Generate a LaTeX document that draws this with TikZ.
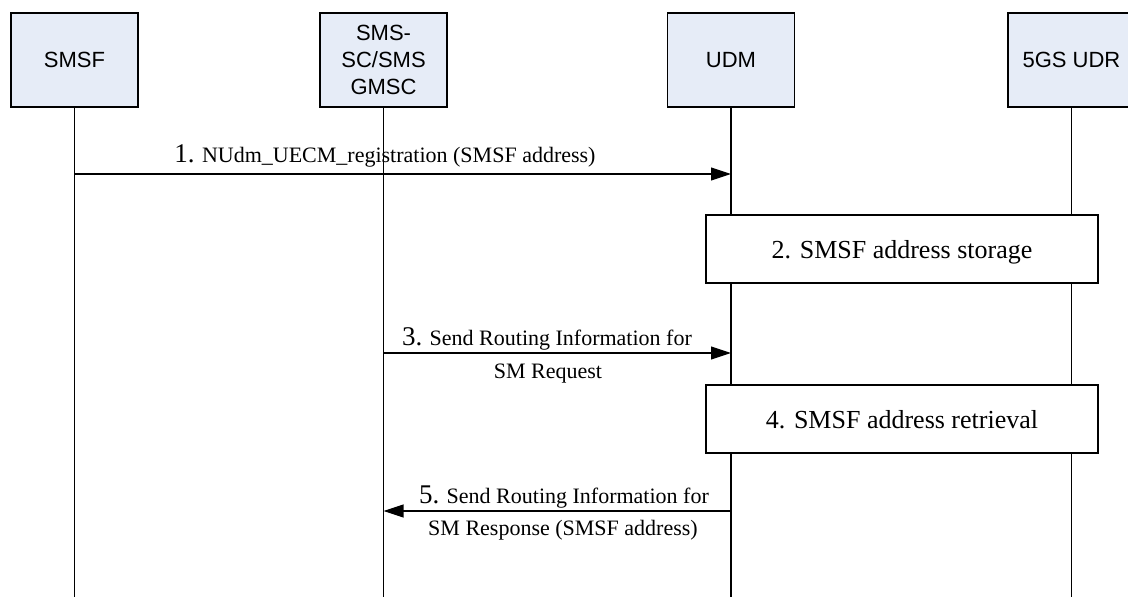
\documentclass[tikz,border=0pt]{standalone}
\usepackage{fontspec}
\setmainfont{Liberation Serif}
\newfontfamily\hdrfont{Liberation Sans}
\usetikzlibrary{arrows.meta,positioning}

\definecolor{hdrfill}{RGB}{230,236,247}
\newcommand{\stepno}[1]{{\fontsize{27}{27}\selectfont #1}}

\begin{document}
\begin{tikzpicture}[
  x=1pt, y=-1pt,
  entity/.style={rectangle, draw, fill=hdrfill, line width=1.1pt, minimum width=127pt, minimum height=94pt,
    align=center, font=\hdrfont\fontsize{22}{27}\selectfont, inner sep=0pt},
  action/.style={rectangle, draw, fill=white, line width=1.1pt, minimum width=392pt, minimum height=68pt,
    font=\fontsize{26}{30}\selectfont, inner sep=0pt, text depth=0pt},
  lifeline/.style={line width=1.1pt},
  msg/.style={line width=1.1pt, -{Triangle[length=20pt,width=13pt]}},
  lbl/.style={font=\fontsize{22}{26}\selectfont, inner sep=0pt, anchor=base}
]
\useasboundingbox (0,0) rectangle (1128,597);

% Entities
\node[entity] (smsf) at (74.5,60) {SMSF};
\node[entity] (smsc) at (383.5,60) {SMS-\\SC/SMS\\GMSC};
\node[entity] (udm) at (731,60) {UDM};
\node[entity] (udr) at (1071.5,60) {5GS UDR};

% Lifeline ends
\coordinate (smsfend) at (74.5,597);
\coordinate (smscend) at (383.5,597);
\coordinate (udmend) at (731,597);
\coordinate (udrend) at (1071.5,597);

% Local actions
\node[action] (store) at (902,249) {2. SMSF address storage};
\node[action] (fetch) at (902,419) {4. SMSF address retrieval};

% Lifelines
\draw[lifeline] (smsf) -- (smsfend);
\draw[lifeline] (smsc) -- (smscend);
\draw[lifeline] (udm) -- (udm |- store.north);
\draw[lifeline] (udm |- store.south) -- (udm |- fetch.north);
\draw[lifeline] (udm |- fetch.south) -- (udmend);
\draw[lifeline] (udr) -- (udr |- store.north);
\draw[lifeline] (udr |- store.south) -- (udr |- fetch.north);
\draw[lifeline] (udr |- fetch.south) -- (udrend);

% Message points
\coordinate (m1) at (0,174);
\coordinate (m3) at (0,353);
\coordinate (m5) at (0,511);

% Messages
\draw[msg] (smsf |- m1) -- (udm |- m1);
\node[lbl] (l1) at (385,162) {\stepno{1.} NUdm\_UECM\_registration (SMSF address)};

\draw[msg] (smsc |- m3) -- (udm |- m3);
\node[lbl] (l3a) at (547,345) {\stepno{3.} Send Routing Information for};
\node[lbl] (l3b) at (548,378) {SM Request};

\draw[msg] (udm |- m5) -- (smsc |- m5);
\node[lbl] (l5a) at (564,503) {\stepno{5.} Send Routing Information for};
\node[lbl] (l5b) at (563,535) {SM Response (SMSF address)};

\end{tikzpicture}
\end{document}
